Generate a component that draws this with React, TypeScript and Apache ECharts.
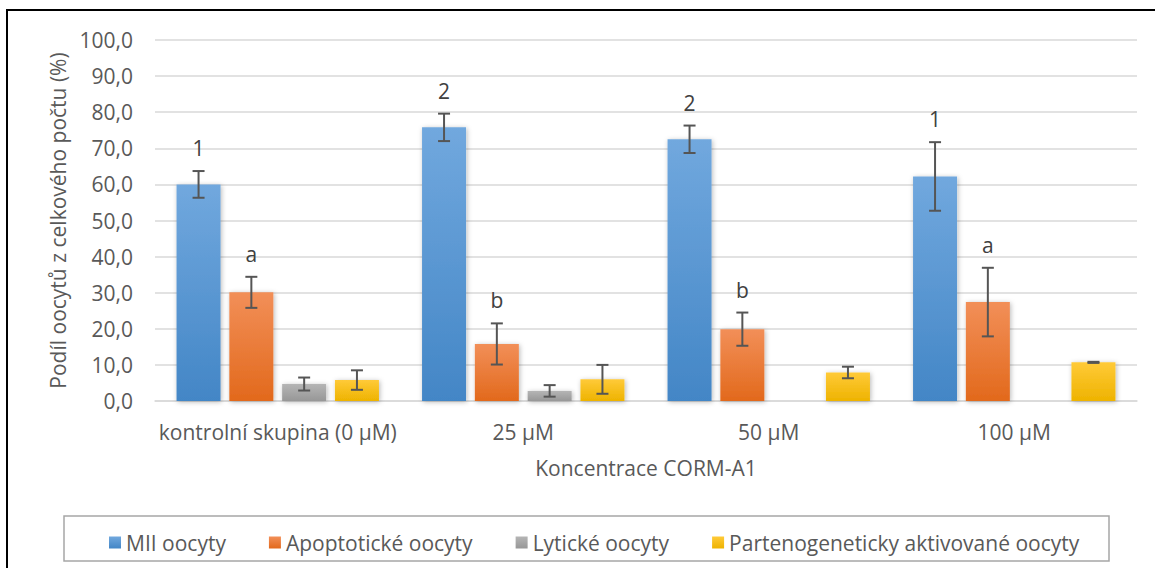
import React, { useEffect, useRef } from "react";
import * as echarts from "echarts";

// Oocyte categories by CORM-A1 concentration (mean % ± error)
const categories = ["kontrolní skupina (0 µM)", "25 µM", "50 µM", "100 µM"];
const seriesNames = [
  "MII oocyty",
  "Apoptotické oocyty",
  "Lytické oocyty",
  "Partenogeneticky aktivované oocyty",
];
const miiValues = [60.0, 75.8, 72.5, 62.2];
const miiErrors = [3.7, 3.8, 3.8, 9.5];
const apoptoticValues = [30.1, 15.8, 19.9, 27.4];
const apoptoticErrors = [4.3, 5.7, 4.6, 9.5];
const lyticValues = [4.7, 2.8, 0, 0];
const lyticErrors = [1.8, 1.6, 0, 0];
const partenoValues = [5.8, 6.0, 7.9, 10.7];
const partenoErrors = [2.7, 4.0, 1.6, 0.15];
// significance letters over the MII and apoptotic bars
const miiLetters = ["1", "2", "2", "1"];
const apoptoticLetters = ["a", "b", "b", "a"];
const yTicks = [0, 10, 20, 30, 40, 50, 60, 70, 80, 90, 100];

const FONT = "'Open Sans', 'Noto Sans', sans-serif";
const FS = 21;
const TEXT = "#595959";
const BAR_W = 44;
const BAR_GAP = 0.2;

const grad = (top: string, bottom: string) =>
  new echarts.graphic.LinearGradient(0, 0, 0, 1, [
    { offset: 0, color: top },
    { offset: 1, color: bottom },
  ]);

const palette = [
  ["#71a8de", "#4386c6"],
  ["#f28f58", "#e2691c"],
  ["#b5b5b5", "#979797"],
  ["#ffca38", "#eeb300"],
];

export default function App() {
  const ref = useRef<HTMLDivElement>(null);

  useEffect(() => {
    if (!ref.current) return;
    const chart = echarts.init(ref.current, undefined, { renderer: "svg" });

    const values = [miiValues, apoptoticValues, lyticValues, partenoValues];
    const errors = [miiErrors, apoptoticErrors, lyticErrors, partenoErrors];
    const letters: (string[] | null)[] = [miiLetters, apoptoticLetters, null, null];

    const errData: number[][] = [];
    const errLabels: string[] = [];
    values.forEach((vals, s) => {
      vals.forEach((v, c) => {
        errData.push([c, s, v, errors[s][c]]);
        errLabels.push(letters[s] ? (letters[s] as string[])[c] : "");
      });
    });

    const barSeries = seriesNames.map((name, s) => ({
      name,
      type: "bar",
      data: values[s],
      barWidth: BAR_W,
      barGap: BAR_GAP * 100 + "%",
      itemStyle: {
        color: grad(palette[s][0], palette[s][1]),
        shadowBlur: 5,
        shadowColor: "rgba(0,0,0,0.28)",
        shadowOffsetX: 1,
        shadowOffsetY: 1,
      },
    }));

    const errorSeries = {
      type: "custom",
      name: "error",
      data: errData,
      z: 5,
      silent: true,
      renderItem: (params: any, api: any) => {
        const cat = api.value(0);
        const s = api.value(1);
        const v = api.value(2);
        const e = api.value(3);
        const step = BAR_W * (1 + BAR_GAP);
        const x = api.coord([cat, v])[0] + (s - 1.5) * step;
        const top = api.coord([cat, v + e])[1];
        const bottom = api.coord([cat, v - e])[1];
        const children: any[] = [];
        const style = { stroke: "#555555", lineWidth: 2 };
        if (e > 0) {
          children.push(
            { type: "line", shape: { x1: x, y1: top, x2: x, y2: bottom }, style },
            { type: "line", shape: { x1: x - 6, y1: top, x2: x + 6, y2: top }, style },
            { type: "line", shape: { x1: x - 6, y1: bottom, x2: x + 6, y2: bottom }, style }
          );
        }
        const label = errLabels[params.dataIndex];
        if (label) {
          children.push({
            type: "text",
            x,
            y: top - 23,
            style: {
              text: label,
              font: `${FS}px ${FONT}`,
              fill: "#404040",
              align: "center",
              verticalAlign: "middle",
            },
          });
        }
        return { type: "group", children };
      },
    };

    chart.setOption({
      animation: false,
      backgroundColor: "#ffffff",
      textStyle: { fontFamily: FONT, color: TEXT },
      grid: { left: 155, right: 18, top: 40, bottom: 167, outerBoundsMode: "none" },
      legend: {
        data: seriesNames,
        left: 104,
        top: 527,
        icon: "rect",
        itemWidth: 12,
        itemHeight: 12,
        itemGap: 43,
        textStyle: { fontFamily: FONT, fontSize: FS, color: TEXT },
      },
      xAxis: {
        type: "category",
        data: categories,
        axisLine: { show: true, lineStyle: { color: "#d9d9d9", width: 1.5 } },
        axisTick: { show: false },
        axisLabel: { interval: 0, margin: 20, fontSize: FS, color: TEXT, fontFamily: FONT },
        name: "Koncentrace CORM-A1",
        nameLocation: "middle",
        nameGap: 56,
        nameTextStyle: { fontSize: FS, color: TEXT, fontFamily: FONT },
      },
      yAxis: {
        type: "value",
        min: 0,
        max: 100,
        interval: 10,
        axisLine: { show: false },
        axisTick: { show: false },
        splitLine: { lineStyle: { color: "#d9d9d9", width: 1.5 } },
        axisLabel: {
          margin: 22,
          fontSize: FS,
          color: TEXT,
          fontFamily: FONT,
          formatter: (v: number) =>
            yTicks.includes(v) ? v.toFixed(1).replace(".", ",") : "",
        },
        name: "Podíl oocytů z celkového počtu (%)",
        nameLocation: "middle",
        nameGap: 86,
        nameTextStyle: { fontSize: FS, color: TEXT, fontFamily: FONT },
      },
      graphic: [
        {
          type: "rect",
          shape: { x: 7, y: 10, width: 1160, height: 580 },
          style: { fill: "none", stroke: "#000000", lineWidth: 2 },
          z: 100,
        },
        {
          type: "rect",
          shape: { x: 64, y: 516, width: 1045, height: 45 },
          style: { fill: "none", stroke: "#a6a6a6", lineWidth: 1.5 },
          z: 100,
        },
      ],
      series: [...barSeries, errorSeries],
    });

    return () => chart.dispose();
  }, []);

  return (
    <div
      ref={ref}
      style={{ position: "fixed", left: 0, top: 0, width: 1155, height: 568 }}
    />
  );
}
